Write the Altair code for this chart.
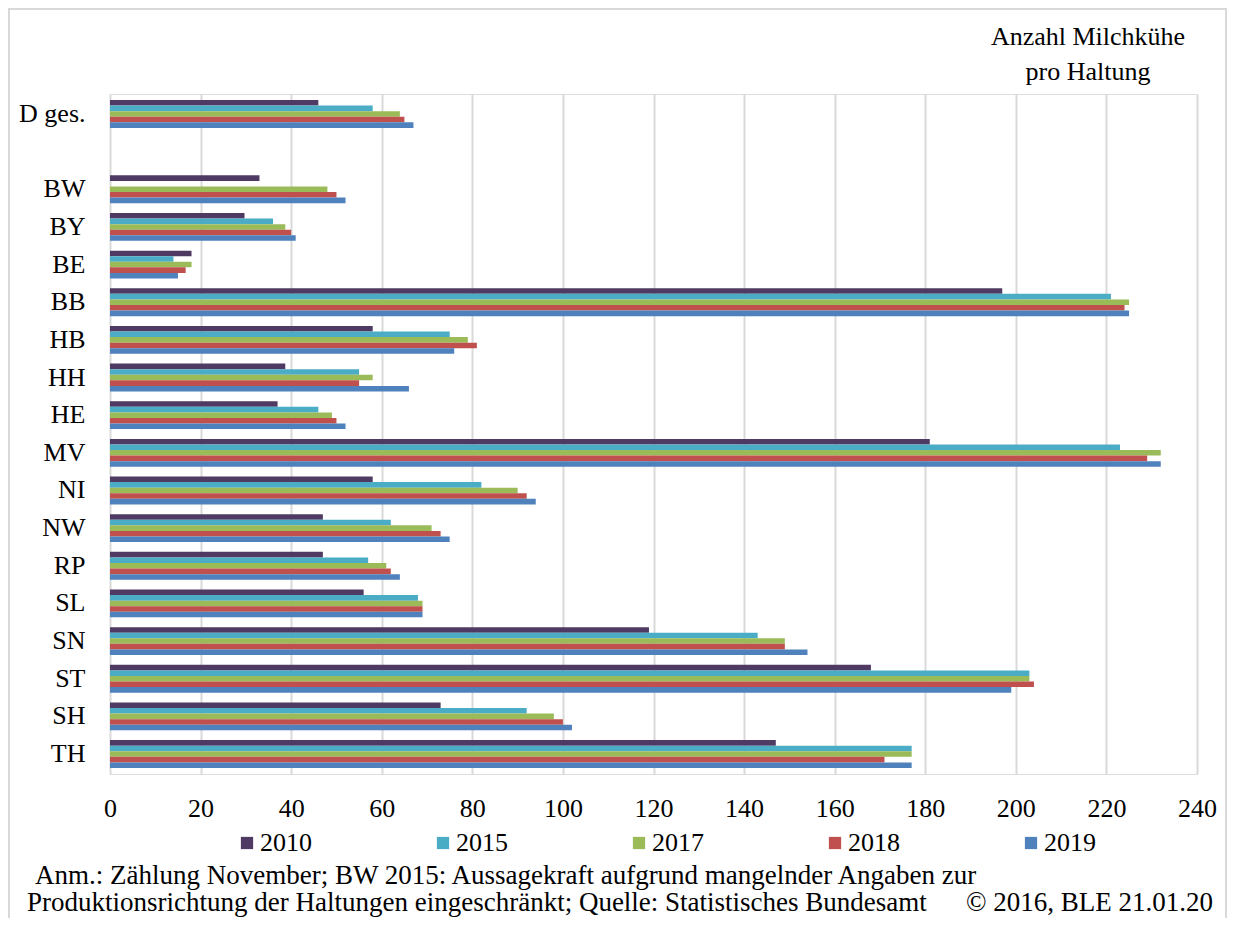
import altair as alt
import pandas as pd

states = ["D ges.", "BW", "BY", "BE", "BB", "HB", "HH", "HE", "MV", "NI",
          "NW", "RP", "SL", "SN", "ST", "SH", "TH"]
y_domain = ["D ges.", " ", "BW", "BY", "BE", "BB", "HB", "HH", "HE", "MV", "NI",
            "NW", "RP", "SL", "SN", "ST", "SH", "TH"]
years = ["2010", "2015", "2017", "2018", "2019"]
v2010 = [46, 33, 29.7, 18, 197, 58, 38.7, 37, 181, 58, 47, 47, 56, 119, 168, 73, 147]
v2015 = [58, None, 36, 14, 221, 75, 55, 46, 223, 82, 62, 57, 68, 143, 203, 92, 177]
v2017 = [64, 48, 38.7, 18, 225, 79, 58, 49, 232, 90, 71, 61, 69, 149, 203, 98, 177]
v2018 = [65, 50, 40, 16.7, 224, 81, 55, 50, 229, 92, 73, 62, 69, 149, 204, 100, 171]
v2019 = [67, 52, 41, 15, 225, 76, 66, 52, 232, 94, 75, 64, 69, 154, 199, 102, 177]
colors = ["#4E3A62", "#4BACC6", "#9BBB59", "#C0504D", "#4F81BD"]
x_ticks = list(range(0, 241, 20))

title1 = "Anzahl Milchkühe"
title2 = "pro Haltung"
note1 = "Anm.: Zählung November; BW 2015:  Aussagekraft aufgrund mangelnder Angaben zur"
note2 = "Produktionsrichtung der Haltungen eingeschränkt; Quelle: Statistisches Bundesamt"
note3 = "© 2016,  BLE 21.01.20"

rows = []
for yr, vals in zip(years, [v2010, v2015, v2017, v2018, v2019]):
    for s, v in zip(states, vals):
        if v is not None:
            rows.append({"state": s, "year": yr, "value": v})
df = pd.DataFrame(rows)

FONT = "Liberation Serif"
W, H = 1087, 680

bars = alt.Chart(df).mark_bar().encode(
    x=alt.X("value:Q", scale=alt.Scale(domain=[0, 240], nice=False),
            axis=alt.Axis(values=x_ticks, title=None, grid=True, ticks=False,
                          domain=False, labelPadding=21, labelFontSize=26,
                          labelFont=FONT, labelColor="#000000", labelFlush=False,
                          gridColor="#d9d9d9", gridWidth=2)),
    y=alt.Y("state:N", sort=y_domain,
            scale=alt.Scale(domain=y_domain, paddingInner=0.26, paddingOuter=0.16),
            axis=alt.Axis(title=None, ticks=False, domain=False, grid=False,
                          labelPadding=25, labelFontSize=26, labelFont=FONT,
                          labelColor="#000000")),
    yOffset=alt.YOffset("year:N", sort=years, scale=alt.Scale(paddingInner=0)),
    color=alt.Color("year:N", sort=years,
                    scale=alt.Scale(domain=years, range=colors),
                    legend=alt.Legend(title=None, orient="none", direction="horizontal",
                                      legendX=124, legendY=736, symbolType="square",
                                      symbolSize=150, symbolStrokeWidth=0,
                                      labelFontSize=26, labelFont=FONT,
                                      labelColor="#000000", labelOffset=0,
                                      columnPadding=118, padding=0)),
)

note_df = pd.DataFrame([{"a": note1, "b": note2, "c": note3, "t1": title1, "t2": title2}])


def txt(field, x, y, align, size):
    return alt.Chart(note_df).mark_text(align=align, baseline="alphabetic", font=FONT,
                                        fontSize=size, color="#000000").encode(
        x=alt.value(x), y=alt.value(y), text=f"{field}:N")


n1 = txt("a", -75, 790, "left", 27)
n2 = txt("b", -83, 817, "left", 27)
n3 = txt("c", 1103, 817, "right", 27)
h1 = txt("t1", 978, -49, "center", 26)
h2 = txt("t2", 978, -14, "center", 26)
frame = alt.Chart(note_df).mark_rect(fill=None, stroke="#d9d9d9", strokeWidth=2).encode(
    x=alt.value(-101), x2=alt.value(1116), y=alt.value(-85), y2=alt.value(840))

chart = alt.layer(frame, bars, n1, n2, n3, h1, h2).properties(
    width=W, height=H,
    autosize=alt.AutoSizeParams(type="none"),
    padding={"left": 102, "top": 86, "right": 30, "bottom": 144},
).configure_view(stroke="#d9d9d9", strokeWidth=2).configure(background="white")

chart.save("out.html", embed_options={"renderer": "svg", "actions": False})
